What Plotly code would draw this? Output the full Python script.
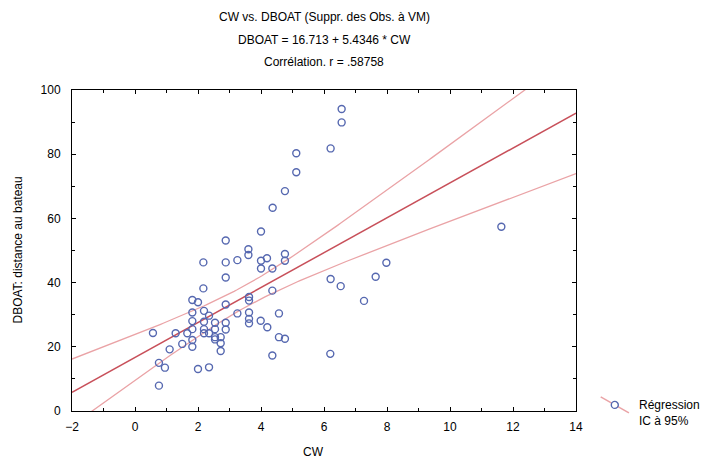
import numpy as np
import plotly.graph_objects as go

# Observations: CW vs DBOAT
cw = [6.56, 6.56, 6.21, 5.12, 5.12, 4.76, 4.37, 4.00, 2.88, 3.60,
      3.60, 4.76, 4.19, 3.25, 4.00, 4.76, 2.17, 2.88, 7.98, 4.00,
      4.36, 7.64, 6.21, 2.88, 6.53, 2.17, 4.36, 3.62, 3.62, 7.27,
      1.82, 2.00, 2.88, 2.19, 1.82, 3.62, 3.25, 4.57, 2.35, 3.62,
      3.99, 1.82, 2.19, 2.54, 2.88, 3.62, 4.20, 1.82, 2.19, 2.54,
      2.88, 0.57, 1.29, 1.66, 2.19, 2.35, 2.54, 2.72, 4.57, 4.76,
      1.82, 2.54, 1.50, 2.72, 1.82, 1.10, 2.72, 6.20, 4.36, 0.76,
      0.95, 2.35, 2.00, 0.76, 11.63]
dboat = [94.1, 89.9, 81.8, 80.3, 74.4, 68.5, 63.3, 55.9, 53.1, 50.4,
         48.6, 48.9, 47.6, 47.0, 46.8, 46.8, 46.3, 46.3, 46.2, 44.4,
         44.4, 41.8, 41.1, 41.6, 38.9, 38.2, 37.5, 35.5, 34.4, 34.3,
         34.6, 33.9, 33.2, 31.2, 30.7, 30.7, 30.4, 30.4, 29.7, 28.7,
         28.1, 28.0, 27.8, 27.5, 27.5, 27.3, 26.1, 25.5, 25.5, 25.5,
         25.4, 24.3, 24.2, 24.2, 24.2, 24.2, 23.0, 23.0, 23.0, 22.5,
         22.1, 22.3, 20.9, 21.1, 20.0, 19.2, 18.7, 17.8, 17.3, 15.0,
         13.5, 13.6, 13.1, 7.9, 57.4]

# Fitted regression (as reported)
intercept = 16.713
slope = 5.4346
t_975 = 1.993  # Student t, 0.975 quantile, df = n - 2

x_tick_vals = [-2, 0, 2, 4, 6, 8, 10, 12, 14]
y_tick_vals = [0, 20, 40, 60, 80, 100]

x = np.asarray(cw)
y = np.asarray(dboat)
n = len(x)
resid = y - (intercept + slope * x)
s = np.sqrt(np.sum(resid ** 2) / (n - 2))
xbar = x.mean()
sxx = np.sum((x - xbar) ** 2)

xs = np.linspace(-2, 14, 200)
fit = intercept + slope * xs
half = t_975 * s * np.sqrt(1.0 / n + (xs - xbar) ** 2 / sxx)

font = "Liberation Sans, Arial, sans-serif"
line_red = "#c8505a"
band_red = "#eaa3a6"
pt_blue = "#5668b0"

fig = go.Figure()
for yy, col, w in [(fit + half, band_red, 1.3), (fit - half, band_red, 1.3), (fit, line_red, 1.5)]:
    fig.add_trace(go.Scatter(x=xs, y=yy, mode="lines", line=dict(color=col, width=w),
                             showlegend=False, hoverinfo="skip"))

fig.add_trace(go.Scatter(x=cw, y=dboat, mode="markers", showlegend=False,
                         marker=dict(symbol="circle-open", size=7, color=pt_blue,
                                     line=dict(width=1.4, color=pt_blue))))

axis_common = dict(showgrid=False, zeroline=False, showline=True, linecolor="black",
                   linewidth=1, mirror="ticks", ticks="inside", ticklen=4,
                   tickcolor="black", automargin=False,
                   tickfont=dict(size=12, color="black", family=font))

fig.update_xaxes(range=[-2, 14], tickvals=x_tick_vals, ticklabelstandoff=5,
                 minor=dict(dtick=1, ticks="inside", ticklen=3, tickcolor="black"),
                 **axis_common)
fig.update_yaxes(range=[0, 100], tickvals=y_tick_vals, ticklabelstandoff=8,
                 minor=dict(dtick=10, ticks="inside", ticklen=3, tickcolor="black"),
                 **axis_common)

titles = ["CW vs. DBOAT (Suppr. des Obs. à VM)",
          "DBOAT = 16.713 + 5.4346 * CW",
          "Corrélation. r = .58758"]
for i, t in enumerate(titles):
    fig.add_annotation(text=t, xref="x domain", yref="paper", x=0.5, y=1,
                       yshift=73 - 22.5 * i, showarrow=False, yanchor="middle",
                       font=dict(size=12, color="black", family=font))

# axis titles
fig.add_annotation(text="CW", xref="x domain", yref="paper", x=0.48, y=0, yshift=-41,
                   showarrow=False, yanchor="middle",
                   font=dict(size=12, color="black", family=font))
fig.add_annotation(text="DBOAT: distance au bateau", xref="paper", yref="y domain",
                   x=0, xshift=-55, y=0.5, textangle=-90, showarrow=False,
                   xanchor="center", font=dict(size=12, color="black", family=font))

# key: slanted line with a circle, two text lines beside it
key_x, key_y = 1.077, 0.019
fig.add_shape(type="line", xref="paper", yref="paper",
              x0=key_x - 0.028, y0=key_y + 0.025, x1=key_x + 0.028, y1=key_y - 0.025,
              line=dict(color=band_red, width=1.5))
fig.add_shape(type="circle", xref="paper", yref="paper", xsizemode="pixel", ysizemode="pixel",
              xanchor=key_x, yanchor=key_y, x0=-3.5, x1=3.5, y0=-3.5, y1=3.5,
              line=dict(color=pt_blue, width=1.4), fillcolor="white")
fig.add_annotation(text="Régression<br>IC à 95%", xref="paper", yref="paper",
                   x=key_x + 0.044, y=key_y, yshift=-8, xanchor="left", yanchor="middle",
                   align="left", showarrow=False,
                   font=dict(size=12, color="black", family=font))

fig.update_layout(
    width=711, height=462,
    margin=dict(l=72, r=135, t=90, b=51),
    paper_bgcolor="white", plot_bgcolor="white",
    font=dict(family=font, color="black", size=12),
    showlegend=False,
)

fig.write_html("out.html")
